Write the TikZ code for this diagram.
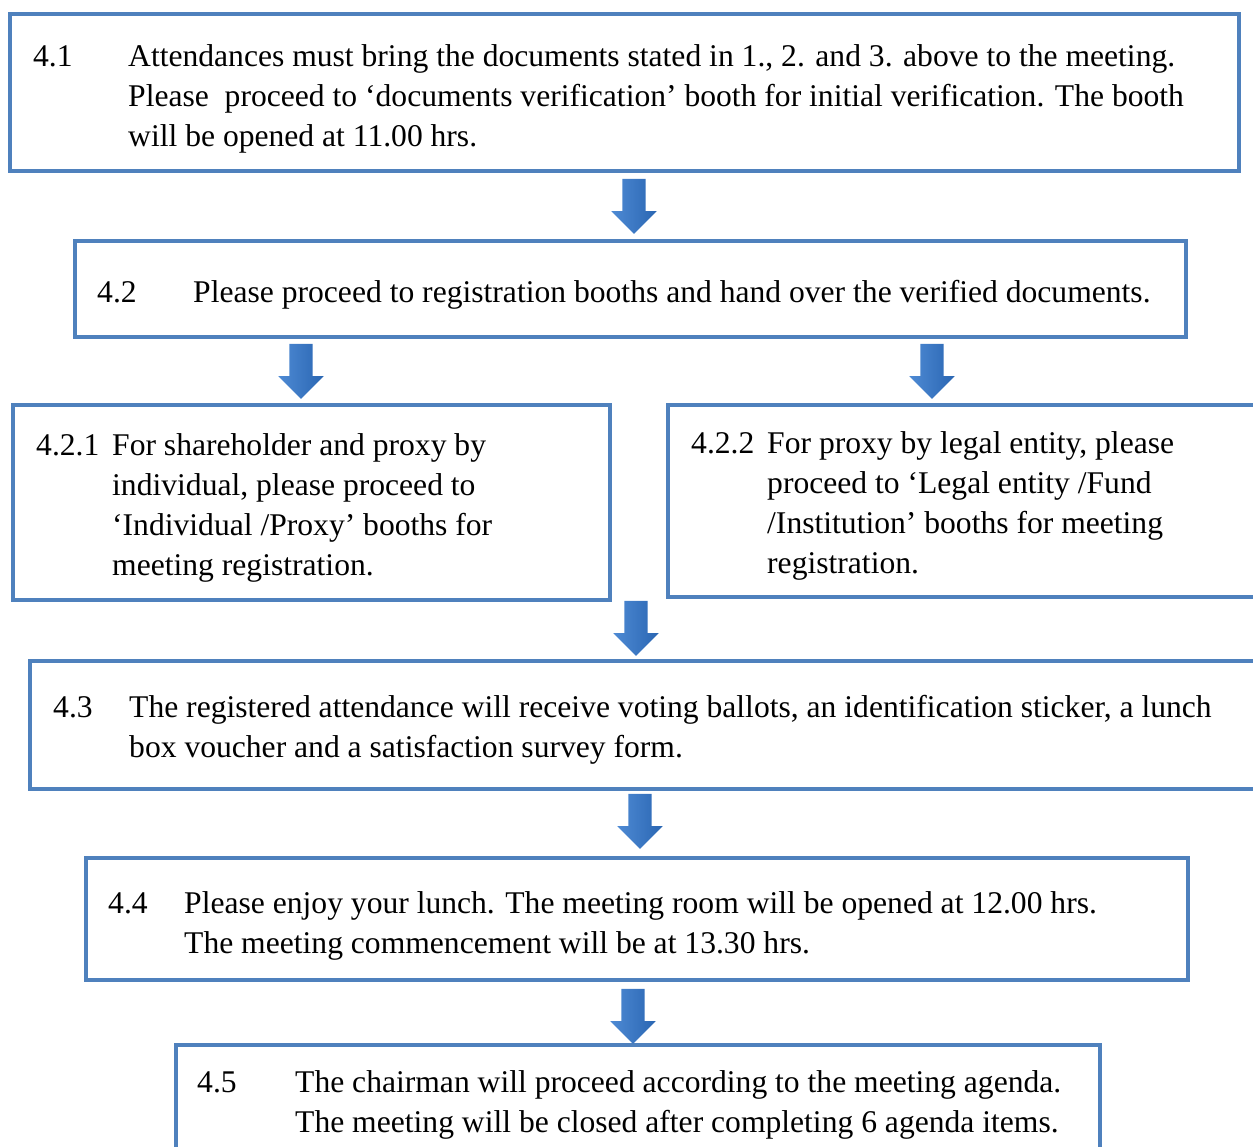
\documentclass[tikz,border=0pt]{standalone}
\usepackage{fontspec}
\setmainfont{Liberation Serif}
\usetikzlibrary{shapes.arrows}
\definecolor{boxblue}{RGB}{79,129,189}
\definecolor{arrowlight}{RGB}{78,138,212}
\definecolor{arrowdark}{RGB}{42,102,178}

\begin{document}
\begin{tikzpicture}[x=1pt, y=-1pt,
  box/.style={draw=boxblue, line width=4.5pt, inner sep=0pt, outer sep=0pt},
  num/.style={anchor=base west, inner sep=0pt, font=\fontsize{31.6}{40}\selectfont},
  txt/.style={num, align=left},
  downarrow/.style={single arrow, rotate=-90, inner sep=11.5pt, minimum height=55pt,
    minimum width=45pt, single arrow head extend=11pt, left color=arrowlight,
    right color=arrowdark, draw=none}]
\useasboundingbox (0,0) rectangle (1253,1146);

\node[box, minimum width=1229pt, minimum height=157pt] (b41) at (624.5,92.5) {};
\node[box, minimum width=1111pt, minimum height=96pt] (b42) at (630.5,289) {};
\node[box, minimum width=597pt, minimum height=195pt] (b421) at (311.5,502.5) {};
\node[box, minimum width=594pt, minimum height=192pt] (b422) at (965,501) {};
\node[box, minimum width=1232pt, minimum height=128pt] (b43) at (646,725) {};
\node[box, minimum width=1102pt, minimum height=122pt] (b44) at (637,919) {};
\node[box, minimum width=924pt, minimum height=115pt] (b45) at (638,1102.5) {};

\node[downarrow] (a1) at (634,200.5) {};
\node[downarrow] (a2) at (301,365.5) {};
\node[downarrow] (a3) at (932,365.5) {};
\node[downarrow] (a4) at (636,622.5) {};
\node[downarrow] (a5) at (640,815.5) {};
\node[downarrow] (a6) at (633,1010.5) {};

% multi-line texts sit on the baseline of their last line
\node[num] (n41) at (33,66) {4.1};
\node[txt] (t41) at (128,146) {Attendances must bring the documents stated in 1., 2. and 3. above to the meeting.\\
  Please\ \ proceed to ‘documents verification’ booth for initial verification. The booth\\
  will be opened at 11.00 hrs.};
\node[num] (n42) at (97,302) {4.2};
\node[txt] (t42) at (193,302) {Please proceed to registration booths and hand over the verified documents.};
\node[num] (n421) at (36,455) {4.2.1};
\node[txt] (t421) at (112,575) {For shareholder and proxy by\\ individual, please proceed to\\
  ‘Individual /Proxy’ booths for\\ meeting registration.};
\node[num] (n422) at (691,453) {4.2.2};
\node[txt] (t422) at (767,573) {For proxy by legal entity, please\\ proceed to ‘Legal entity /Fund\\
  /Institution’ booths for meeting\\ registration.};
\node[num] (n43) at (53,717) {4.3};
\node[txt] (t43) at (129,757) {The registered attendance will receive voting ballots, an identification sticker, a lunch\\
  box voucher and a satisfaction survey form.};
\node[num] (n44) at (108,913) {4.4};
\node[txt] (t44) at (184,953) {Please enjoy your lunch. The meeting room will be opened at 12.00 hrs.\\
  The meeting commencement will be at 13.30 hrs.};
\node[num] (n45) at (197,1092) {4.5};
\node[txt] (t45) at (295,1132) {The chairman will proceed according to the meeting agenda.\\
  The meeting will be closed after completing 6 agenda items.};
\end{tikzpicture}
\end{document}
